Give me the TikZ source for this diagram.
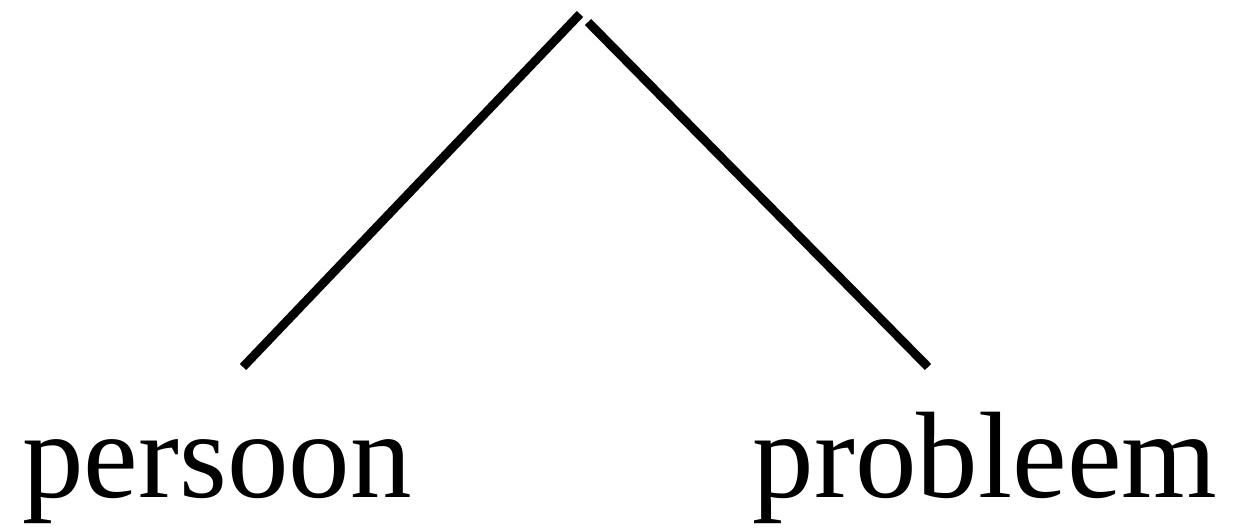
\documentclass[tikz,border=0pt]{standalone}
\usepackage{fontspec}
\setmainfont{Liberation Serif}
\usetikzlibrary{positioning}
\tikzset{
  branch/.style={black, line width=5pt},
  leaf/.style={anchor=base, inner sep=0pt, font=\fontsize{70}{84}\selectfont}
}

\begin{document}
\begin{tikzpicture}
    \useasboundingbox (0,0) rectangle (24.94,10.56);
    % root and branch ends
    \coordinate (rootL) at (11.60,10.28);
    \coordinate (rootR) at (11.76,10.12);
    \coordinate (endL) at (4.86,3.22);
    \coordinate (endR) at (18.56,3.22);
    % leaves
    \node[leaf] (persoon) at (4.34,0.62) {persoon};
    \node[leaf] (probleem) at (19.70,0.62) {probleem};
    \draw[branch] (rootL) -- (endL);
    \draw[branch] (rootR) -- (endR);
  \end{tikzpicture}
\end{document}
